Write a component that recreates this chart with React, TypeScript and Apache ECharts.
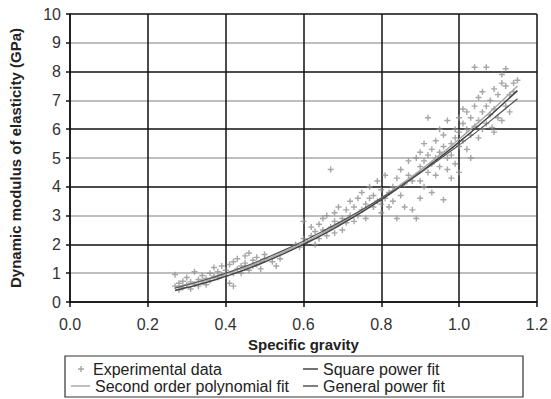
import React, { useEffect, useRef } from "react";
import * as echarts from "echarts";

// Scatter: experimental data [specific gravity, modulus GPa]
const experimentalData: number[][] = [
  [0.27, 0.95], [0.27, 0.55], [0.28, 0.42], [0.28, 0.65], [0.29, 0.5], [0.29, 0.72], [0.30, 0.6], [0.30, 0.85],
  [0.31, 0.45], [0.31, 0.7], [0.32, 0.62], [0.32, 1.05], [0.33, 0.55], [0.33, 0.78], [0.34, 0.7], [0.34, 0.92],
  [0.35, 0.82], [0.35, 0.6], [0.36, 0.75], [0.36, 1.0],
  [0.37, 0.9], [0.37, 1.2], [0.38, 0.85], [0.38, 1.05], [0.39, 1.25], [0.39, 0.95], [0.40, 1.1], [0.40, 0.9],
  [0.41, 1.3], [0.41, 0.65], [0.42, 0.55], [0.42, 1.0], [0.42, 1.4], [0.43, 1.15], [0.43, 1.5], [0.44, 1.25],
  [0.44, 1.0], [0.45, 1.6], [0.45, 1.2], [0.45, 1.35], [0.46, 1.7], [0.46, 1.1], [0.47, 1.45], [0.47, 1.25],
  [0.48, 1.55], [0.48, 1.3], [0.49, 1.4], [0.49, 1.15], [0.50, 1.5], [0.50, 1.65], [0.52, 1.4], [0.53, 1.25], [0.54, 1.5],
  [0.58, 2.0], [0.59, 1.9], [0.60, 2.2], [0.60, 2.8], [0.61, 2.1], [0.62, 2.3], [0.62, 2.6], [0.63, 2.0],
  [0.63, 2.45], [0.64, 2.7], [0.64, 2.2], [0.65, 2.9], [0.65, 2.5], [0.66, 2.3], [0.66, 3.0], [0.67, 2.6],
  [0.67, 4.6], [0.68, 2.8], [0.68, 3.1], [0.68, 2.4], [0.69, 2.7], [0.69, 3.3], [0.70, 2.9], [0.70, 2.5],
  [0.71, 3.2], [0.71, 2.75], [0.72, 3.0], [0.72, 3.5], [0.73, 2.8], [0.73, 3.3],
  [0.74, 3.6], [0.74, 3.0], [0.75, 3.2], [0.75, 3.8], [0.76, 3.4], [0.76, 2.9], [0.77, 3.6], [0.77, 4.0],
  [0.78, 3.3], [0.78, 3.7], [0.79, 3.5], [0.79, 4.2], [0.80, 3.4], [0.80, 3.1], [0.80, 3.9], [0.81, 3.6],
  [0.81, 4.4], [0.82, 3.8], [0.82, 3.3], [0.83, 4.0], [0.83, 3.5], [0.84, 2.9], [0.84, 4.3], [0.85, 3.7],
  [0.85, 4.6], [0.86, 4.1], [0.86, 3.3], [0.87, 4.9], [0.87, 4.4], [0.88, 3.2], [0.88, 4.2], [0.89, 5.0],
  [0.89, 2.9], [0.90, 4.7], [0.90, 3.6],
  [0.90, 5.2], [0.90, 4.2], [0.91, 4.9], [0.91, 5.5], [0.91, 4.0], [0.92, 5.1], [0.92, 4.5], [0.92, 6.4],
  [0.93, 4.8], [0.93, 5.3], [0.93, 3.8], [0.94, 5.0], [0.94, 5.6], [0.94, 4.4], [0.95, 5.2], [0.95, 4.7],
  [0.95, 6.0], [0.96, 5.4], [0.96, 3.55], [0.96, 5.8], [0.97, 5.0], [0.97, 4.6], [0.97, 6.3], [0.98, 5.5],
  [0.98, 5.1], [0.98, 4.3], [0.99, 5.7], [0.99, 6.0], [0.99, 4.8], [1.00, 5.4], [1.00, 6.4], [1.00, 5.9], [1.00, 4.5],
  [1.01, 5.6], [1.01, 6.2], [1.01, 6.7], [1.02, 5.3], [1.02, 6.0], [1.02, 6.6], [1.03, 5.8], [1.03, 6.4],
  [1.03, 5.0], [1.04, 6.1], [1.04, 6.8], [1.04, 8.15], [1.05, 6.3], [1.05, 7.1], [1.05, 5.7], [1.06, 6.6],
  [1.06, 6.0], [1.06, 7.3], [1.07, 6.8], [1.07, 6.2], [1.07, 8.15], [1.08, 7.0], [1.08, 6.5], [1.085, 6.06],
  [1.09, 6.7], [1.09, 7.4], [1.09, 5.9], [1.10, 7.2], [1.10, 6.4], [1.11, 7.9], [1.11, 7.6], [1.11, 6.3],
  [1.12, 8.1], [1.12, 7.5], [1.12, 6.8], [1.13, 7.2], [1.13, 6.6], [1.14, 7.6], [1.14, 7.3], [1.15, 7.7],
];

// Fitted curves
const fitX: number[] = [0.27, 0.3, 0.35, 0.4, 0.45, 0.5, 0.55, 0.6, 0.65, 0.7, 0.75, 0.8, 0.85, 0.9, 0.95, 1.0, 1.05, 1.1, 1.15];
const squarePowerFit: number[] = [0.40, 0.50, 0.68, 0.89, 1.12, 1.39, 1.68, 2.00, 2.34, 2.72, 3.12, 3.55, 4.01, 4.50, 5.01, 5.55, 6.12, 6.72, 7.34];
const polynomialFit: number[] = [0.53, 0.61, 0.78, 0.97, 1.20, 1.45, 1.74, 2.05, 2.40, 2.77, 3.18, 3.61, 4.08, 4.57, 5.10, 5.65, 6.24, 6.85, 7.50];
const generalPowerFit: number[] = [0.48, 0.59, 0.78, 1.00, 1.24, 1.51, 1.80, 2.12, 2.46, 2.82, 3.20, 3.61, 4.03, 4.48, 4.96, 5.45, 5.96, 6.50, 7.06];

const xTicks: number[] = [0, 0.2, 0.4, 0.6, 0.8, 1.0, 1.2];

const FONT = "'Liberation Sans', Arial, sans-serif";
const PLUS = "path://M2.3,0h1.4v2.3h2.3v1.4h-2.3v2.3h-1.4v-2.3h-2.3v-1.4h2.3z";

const POLY_COLOR = "#a8a8a8";
const SQUARE_COLOR = "#444444";
const GENERAL_COLOR = "#555555";

export default function App() {
  const ref = useRef<HTMLDivElement>(null);
  useEffect(() => {
    if (!ref.current) return;
    const chart = echarts.init(ref.current, null, { renderer: "svg" });
    const pair = (ys: number[]) => fitX.map((x, i) => [x, ys[i]]);
    const legendText = { fontFamily: FONT, fontSize: 16, color: "#222", lineHeight: 16 };
    chart.setOption({
      animation: false,
      backgroundColor: "#ffffff",
      textStyle: { fontFamily: FONT },
      grid: { left: 63, right: 10, top: 14, bottom: 97 },
      xAxis: {
        type: "value",
        min: 0,
        max: 1.2,
        interval: 0.2,
        name: "Specific gravity",
        nameLocation: "middle",
        nameGap: 34,
        nameTextStyle: { fontFamily: FONT, fontSize: 15, fontWeight: "bold", color: "#222" },
        axisLine: { show: true, lineStyle: { color: "#111", width: 1.5 } },
        axisTick: { show: true, length: 5, lineStyle: { color: "#111", width: 1.5 } },
        axisLabel: {
          fontFamily: FONT, fontSize: 16, color: "#333", margin: 14,
          formatter: (v: number) => {
            const t = xTicks.find((k) => Math.abs(k - v) < 1e-6);
            return (t !== undefined ? t : v).toFixed(1);
          },
        },
        splitLine: { show: true, lineStyle: { color: "#111", width: 1.5 } },
      },
      yAxis: {
        type: "value",
        min: 0,
        max: 10,
        interval: 1,
        name: "Dynamic modulus of elasticity (GPa)",
        nameLocation: "middle",
        nameGap: 47,
        nameTextStyle: { fontFamily: FONT, fontSize: 15, fontWeight: "bold", color: "#222" },
        axisLine: { show: true, lineStyle: { color: "#111", width: 1.5 } },
        axisTick: { show: true, length: 4, lineStyle: { color: "#111", width: 1.5 } },
        axisLabel: { fontFamily: FONT, fontSize: 16, color: "#333", margin: 9 },
        splitLine: { show: true, lineStyle: { color: ["#111", "#a8a8a8"], width: 1.5 } },
      },
      legend: [
        {
          data: [{ name: "Experimental data", icon: PLUS }],
          left: 78, top: 361, itemWidth: 6, itemHeight: 6, padding: 0,
          textStyle: { ...legendText, padding: [0, 0, 0, 4] },
          selectedMode: false,
        },
        {
          data: [{ name: "Second order polynomial fit", icon: "rect" }],
          left: 71, top: 378, itemWidth: 19, itemHeight: 1.5, padding: 0,
          textStyle: legendText, selectedMode: false,
        },
        {
          data: [
            { name: "Square power fit", icon: "rect" },
            { name: "General power fit", icon: "rect" },
          ],
          orient: "vertical",
          left: 303, top: 361, itemWidth: 15, itemHeight: 1.5, itemGap: 1, padding: 0,
          textStyle: legendText, selectedMode: false,
        },
      ],
      graphic: [
        {
          type: "rect",
          shape: { x: 65, y: 356, width: 458, height: 41 },
          style: { fill: "none", stroke: "#333", lineWidth: 1.2 },
          z: 100,
        },
      ],
      series: [
        {
          name: "Experimental data",
          type: "scatter",
          data: experimentalData,
          symbol: PLUS,
          symbolSize: 6,
          itemStyle: { color: "#909090" },
        },
        {
          name: "Second order polynomial fit",
          type: "line",
          data: pair(polynomialFit),
          symbol: "none",
          smooth: true,
          color: POLY_COLOR,
          itemStyle: { color: POLY_COLOR },
          lineStyle: { color: POLY_COLOR, width: 1.5 },
          z: 3,
        },
        {
          name: "Square power fit",
          type: "line",
          data: pair(squarePowerFit),
          symbol: "none",
          smooth: true,
          color: SQUARE_COLOR,
          itemStyle: { color: SQUARE_COLOR },
          lineStyle: { color: SQUARE_COLOR, width: 1.5 },
          z: 4,
        },
        {
          name: "General power fit",
          type: "line",
          data: pair(generalPowerFit),
          symbol: "none",
          smooth: true,
          color: GENERAL_COLOR,
          itemStyle: { color: GENERAL_COLOR },
          lineStyle: { color: GENERAL_COLOR, width: 1.2 },
          z: 4,
        },
      ],
    });
    return () => chart.dispose();
  }, []);
  return (
    <div
      ref={ref}
      style={{ position: "fixed", left: 0, top: 0, width: 551, height: 399, background: "#fff" }}
    />
  );
}
